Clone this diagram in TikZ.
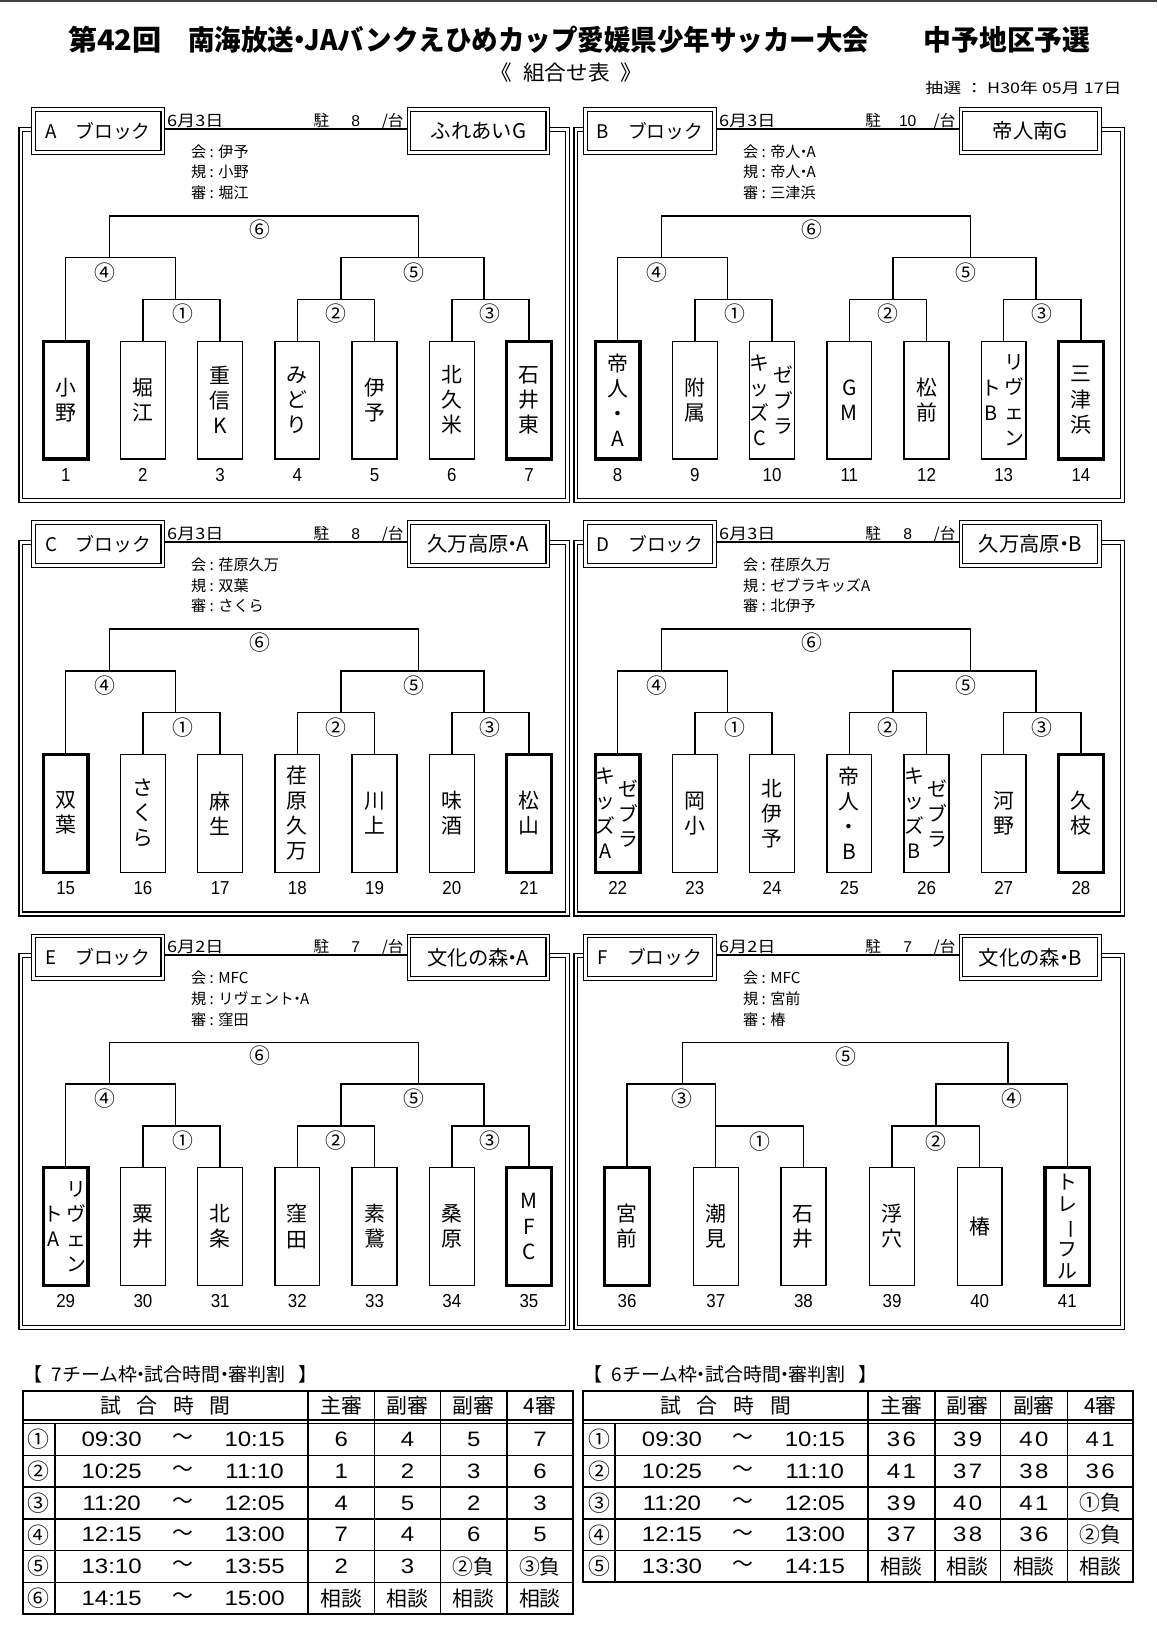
\documentclass[tikz,border=0pt]{standalone}
\usepackage{fontspec}
\usepackage{graphicx}
\setmainfont{Noto Sans CJK JP}
\newfontfamily\latn{Liberation Sans}
\newcommand\fsz[1]{\fontsize{#1}{#1}\selectfont}
\newcommand\vfsz[2]{\fontsize{#1}{#2}\selectfont}
\def\lsp#1#2{\def\lspk{\kern#1}\lspa#2\relax}
\def\lspa#1{#1\lspb}
\def\lspb#1{\ifx#1\relax\else\lspk#1\expandafter\lspb\fi}
\newcommand\tn[1]{{\latn\fsz{20}\scalebox{1.15}[1]{\lsp{2pt}{#1}}}}
\newcommand\vbar{\rotatebox[origin=c]{-90}{ー}}
\newcommand\ndot{\kern-0.3em・\kern-0.3em}
\tikzset{
  every node/.style={inner sep=0pt},
  fr/.style={draw, double, double distance=2.6pt, line width=1.1pt},
  hbox/.style={draw, double, double distance=2.4pt, line width=1.1pt, fill=white, minimum height=41pt, font=\fsz{18}},
  br/.style={line width=1.4pt},
  tbox/.style={draw, line width=1.3pt, fill=white, minimum width=43pt, minimum height=113pt},
  seed/.style={tbox, line width=3.2pt},
  tname/.style={font=\vfsz{20}{24}, align=center},
  tname2/.style={font=\vfsz{19}{24}, align=center},
  tnumb/.style={font=\latn\fsz{18}},
  circ/.style={font=\fsz{20}},
  small/.style={font=\fsz{14.5}},
  tl/.style={line width=1.4pt},
  cell/.style={font=\fsz{20}},
}
\newcommand\blockframe[7]{%
  \draw[fr] (#2+2,124) rectangle (#3-2,480);
  \fill[white] (150,119) rectangle (395,129);
  \draw[line width=1.5pt] (150,123.5) -- (395,123.5);
  \node[hbox, minimum width=124pt] (#1-hb) at (94,125.5) {#4\hspace{1em}ブロック};
  \node[hbox, minimum width=133pt, font=\fsz{19.5}] (#1-hv) at (458.5,125.5) {#7};
  \node[font=\fsz{15}, anchor=base west] (#1-date) at (160,121) {\resizebox{54pt}{\height}{#5}};
  \node[font=\fsz{15}, anchor=base] (#1-park) at (308,121) {駐};
  \node[font=\latn\fsz{15}, anchor=base] (#1-pn) at (341,121) {#6};
  \node[font=\fsz{15}, anchor=base east] (#1-pu) at (387,121) {/台};
}
\newcommand\officials[4]{%
  \node[small, anchor=west] (#1-o1) at (183,145) {会 : #2};
  \node[small, anchor=west] (#1-o2) at (183,165) {規 : #3};
  \node[small, anchor=west] (#1-o3) at (183,185) {審 : #4};
}
\newcommand\team[5]{%
  \node[#3] (#1) at (#2,383.5) {};
  \node[tname] (#1-txt) at (#1.center) {#5};
  \node[tnumb] (#1-num) at (#2,455) {\scalebox{0.9}[1]{#4}};
}
\newcommand\teamtwo[6]{%
  \node[#3] (#1) at (#2,383.5) {};
  \node[tname2] (#1-r) at ([xshift=10.5pt]#1.center) {#5};
  \node[tname2] (#1-l) at ([xshift=-12pt]#1.center) {#6};
  \node[tnumb] (#1-num) at (#2,455) {\scalebox{0.9}[1]{#4}};
}
\newcommand\bracketseven[8]{%
  \coordinate (#1-m1) at (174,287);
  \coordinate (#1-m2) at (322,287);
  \coordinate (#1-m3) at (470,287);
  \coordinate (#1-j1) at (168,287);
  \coordinate (#1-j2) at (327,287);
  \coordinate (#1-j3) at (464,287);
  \coordinate (#1-m4) at (115,247);
  \coordinate (#1-m5) at (395,247);
  \coordinate (#1-j4) at (105,247);
  \coordinate (#1-j5) at (401,247);
  \coordinate (#1-m6) at (253,207);
  \draw[br] (#3.north) |- (#1-m1) -| (#4.north);
  \draw[br] (#5.north) |- (#1-m2) -| (#6.north);
  \draw[br] (#7.north) |- (#1-m3) -| (#8.north);
  \draw[br] (#2.north) |- (#1-m4) -| (#1-j1);
  \draw[br] (#1-j2) |- (#1-m5) -| (#1-j3);
  \draw[br] (#1-j4) |- (#1-m6) -| (#1-j5);
  \node[circ] (#1-c1) at (175,301) {①};
  \node[circ] (#1-c2) at (322,301) {②};
  \node[circ] (#1-c3) at (470,301) {③};
  \node[circ] (#1-c4) at (101,261) {④};
  \node[circ] (#1-c5) at (397,261) {⑤};
  \node[circ] (#1-c6) at (249,220) {⑥};
}
\begin{document}
\begin{tikzpicture}[x=1pt,y=-1pt]
\useasboundingbox (0,0) rectangle (1109,1568);
\fill[white] (0,0) rectangle (1109,1568);
\fill[black!75] (0,0) rectangle (1109,2);

% ---------- title ----------
\node[anchor=west, font=\bfseries\fsz{27}] (ttl1) at (65,38) {\resizebox{90pt}{\height}{第42回}};
\node[anchor=west, font=\bfseries\fsz{27}] (ttl2) at (180,38) {\resizebox{653pt}{\height}{南海放送\ndot JAバンクえひめカップ愛媛県少年サッカー大会}};
\node[anchor=west, font=\bfseries\fsz{27}] (ttl3) at (885,38) {\resizebox{160pt}{\height}{中予地区予選}};
\node[font=\fsz{20}] (sub) at (543,70) {\resizebox{145pt}{\height}{《\hspace{0.5em}組合せ表\hspace{0.5em}》}};
\node[font=\fsz{14}] (lot) at (981,84) {\resizebox{188pt}{\height}{抽選 ： H30年 05月 17日}};

% ---------- Block A ----------
\begin{scope}[shift={(0,0)}]
\blockframe{A}{18}{546}{A}{6月3日}{8}{ふれあいG}
\officials{A}{伊予}{小野}{堀江}
\team{t1}{63}{seed}{1}{小\\野}
\team{t2}{137}{tbox}{2}{堀\\江}
\team{t3}{211}{tbox}{3}{重\\信\\K}
\team{t4}{285}{tbox}{4}{み\\ど\\り}
\team{t5}{359}{tbox}{5}{伊\\予}
\team{t6}{433}{tbox}{6}{北\\久\\米}
\team{t7}{507}{seed}{7}{石\\井\\東}
\bracketseven{A}{t1}{t2}{t3}{t4}{t5}{t6}{t7}
\end{scope}

% ---------- Block B ----------
\begin{scope}[shift={(529,0)}]
\blockframe{B}{21}{549}{B}{6月3日}{10}{帝人南G}
\officials{B}{帝人\ndot A}{帝人\ndot A}{三津浜}
\team{t8}{63}{seed}{8}{帝\\人\\・\\A}
\team{t9}{137}{tbox}{9}{附\\属}
\teamtwo{t10}{211}{tbox}{10}{ゼ\\ブ\\ラ}{キ\\ッ\\ズ\\C}
\team{t11}{285}{tbox}{11}{G\\M}
\team{t12}{359}{tbox}{12}{松\\前}
\teamtwo{t13}{433}{tbox}{13}{リ\\ヴ\\ェ\\ン}{ト\\B}
\team{t14}{507}{seed}{14}{三\\津\\浜}
\bracketseven{B}{t8}{t9}{t10}{t11}{t12}{t13}{t14}
\end{scope}

% ---------- Block C ----------
\begin{scope}[shift={(0,396)}]
\blockframe{C}{18}{546}{C}{6月3日}{8}{久万高原\ndot A}
\officials{C}{荏原久万}{双葉}{さくら}
\team{t15}{63}{seed}{15}{双\\葉}
\team{t16}{137}{tbox}{16}{さ\\く\\ら}
\team{t17}{211}{tbox}{17}{麻\\生}
\team{t18}{285}{tbox}{18}{荏\\原\\久\\万}
\team{t19}{359}{tbox}{19}{川\\上}
\team{t20}{433}{tbox}{20}{味\\酒}
\team{t21}{507}{seed}{21}{松\\山}
\bracketseven{C}{t15}{t16}{t17}{t18}{t19}{t20}{t21}
\end{scope}

% ---------- Block D ----------
\begin{scope}[shift={(529,396)}]
\blockframe{D}{21}{549}{D}{6月3日}{8}{久万高原\ndot B}
\officials{D}{荏原久万}{ゼブラキッズA}{北伊予}
\teamtwo{t22}{63}{seed}{22}{ゼ\\ブ\\ラ}{キ\\ッ\\ズ\\A}
\team{t23}{137}{tbox}{23}{岡\\小}
\team{t24}{211}{tbox}{24}{北\\伊\\予}
\team{t25}{285}{tbox}{25}{帝\\人\\・\\B}
\teamtwo{t26}{359}{tbox}{26}{ゼ\\ブ\\ラ}{キ\\ッ\\ズ\\B}
\team{t27}{433}{tbox}{27}{河\\野}
\team{t28}{507}{seed}{28}{久\\枝}
\bracketseven{D}{t22}{t23}{t24}{t25}{t26}{t27}{t28}
\end{scope}

% ---------- Block E ----------
\begin{scope}[shift={(0,792)}]
\blockframe{E}{18}{546}{E}{6月2日}{7}{文化の森\ndot A}
\officials{E}{MFC}{リヴェント\ndot A}{窪田}
\teamtwo{t29}{63}{seed}{29}{リ\\ヴ\\ェ\\ン}{ト\\A}
\team{t30}{137}{tbox}{30}{粟\\井}
\team{t31}{211}{tbox}{31}{北\\条}
\team{t32}{285}{tbox}{32}{窪\\田}
\team{t33}{359}{tbox}{33}{素\\鵞}
\team{t34}{433}{tbox}{34}{桑\\原}
\team{t35}{507}{seed}{35}{M\\F\\C}
\bracketseven{E}{t29}{t30}{t31}{t32}{t33}{t34}{t35}
\end{scope}

% ---------- Block F ----------
\begin{scope}[shift={(529,792)}]
\blockframe{F}{21}{549}{F}{6月2日}{7}{文化の森\ndot B}
\officials{F}{MFC}{宮前}{椿}
\team{t36}{72}{seed}{36}{宮\\前}
\team{t37}{157}{tbox}{37}{潮\\見}
\team{t38}{241}{tbox}{38}{石\\井}
\team{t39}{326}{tbox}{39}{浮\\穴}
\team{t40}{410}{tbox}{40}{椿}
\node[seed] (t41) at (494,383.5) {};
\node[font=\vfsz{19}{21.5}, align=center] (t41-txt) at (t41.center) {ト\\レ\\\vbar\\フ\\ル};
\node[tnumb] (t41-num) at (494,455) {\scalebox{0.9}[1]{41}};
\coordinate (F-m3) at (114,247);
\coordinate (F-m1) at (199,287);
\coordinate (F-j2) at (368,287);
\coordinate (F-m4) at (431,247);
\coordinate (F-m2) at (368,287);
\coordinate (F-j3) at (125,247);
\coordinate (F-j4) at (437,247);
\coordinate (F-m5) at (281,207);
\draw[br] (t36.north) |- (F-m3) -| (t37.north);
\draw[br] (t37.north) |- (F-m1) -| (t38.north);
\draw[br] (t39.north) |- (F-m2) -| (t40.north);
\draw[br] (F-j2) |- (F-m4) -| (t41.north);
\draw[br] (F-j3) |- (F-m5) -| (F-j4);
\node[circ] (F-c5) at (282,221) {⑤};
\node[circ] (F-c3) at (125,261) {③};
\node[circ] (F-c4) at (441,261) {④};
\node[circ] (F-c1) at (199,302) {①};
\node[circ] (F-c2) at (368,302) {②};
\end{scope}

% ---------- Left table ----------
\node[font=\fsz{18}, anchor=west] (LT-title) at (22,1317) {\resizebox{282pt}{\height}{【\hspace{0.5em}7チーム枠\ndot 試合時間\ndot 審判割\hspace{0.7em}】}};
\draw[line width=2pt] (22,1333) rectangle (549,1546.9);
\draw[tl] (22,1361) -- (549,1361);
\draw[tl] (22,1364.5) -- (549,1364.5);
\foreach \yy in {1394.9,1425.3,1455.7,1486.1,1516.5} \draw[tl] (22,\yy) -- (549,\yy);
\draw[tl] (52.5,1364.5) -- (52.5,1546.9);
\foreach \xx in {295,359,422,486} \draw[tl] (\xx,1333) -- (\xx,1546.9);
\node[cell] (LT-h0) at (158.5,1347.5) {\lsp{15pt}{試合時間}};
\node[cell] (LT-h1) at (327,1347.5) {主審};
\node[cell] (LT-h2) at (390.5,1347.5) {副審};
\node[cell] (LT-h3) at (454,1347.5) {副審};
\node[cell] (LT-h4) at (517.5,1347.5) {4審};
\foreach \i/\c/\a/\b/\p/\q/\r/\s in {1/①/09:30/10:15/\tn{6}/\tn{4}/\tn{5}/\tn{7},
  2/②/10:25/11:10/\tn{1}/\tn{2}/\tn{3}/\tn{6},
  3/③/11:20/12:05/\tn{4}/\tn{5}/\tn{2}/\tn{3},
  4/④/12:15/13:00/\tn{7}/\tn{4}/\tn{6}/\tn{5},
  5/⑤/13:10/13:55/\tn{2}/\tn{3}/②負/③負,
  6/⑥/14:15/15:00/相談/相談/相談/相談}{
  \pgfmathsetmacro\yy{1379.7+30.4*(\i-1)}
  \node[cell, font=\fsz{21}] (LT-r\i-n) at (37.3,\yy) {\c};
  \node[cell] (LT-r\i-a) at (107,\yy) {\tn{\a}};
  \node[cell] (LT-r\i-w) at (175,\yy) {～};
  \node[cell] (LT-r\i-b) at (244,\yy) {\tn{\b}};
  \node[cell] (LT-r\i-p) at (327,\yy) {\p};
  \node[cell] (LT-r\i-q) at (390.5,\yy) {\q};
  \node[cell] (LT-r\i-r) at (454,\yy) {\r};
  \node[cell] (LT-r\i-s) at (517.5,\yy) {\s};
}

% ---------- Right table ----------
\begin{scope}[shift={(537,0)}]
\node[font=\fsz{18}, anchor=west] (RT-title) at (22,1317) {\resizebox{282pt}{\height}{【\hspace{0.5em}6チーム枠\ndot 試合時間\ndot 審判割\hspace{0.7em}】}};
\draw[line width=2pt] (22,1333) rectangle (549,1516.5);
\draw[tl] (22,1361) -- (549,1361);
\draw[tl] (22,1364.5) -- (549,1364.5);
\foreach \yy in {1394.9,1425.3,1455.7,1486.1} \draw[tl] (22,\yy) -- (549,\yy);
\draw[tl] (52.5,1364.5) -- (52.5,1516.5);
\foreach \xx in {295,359,422,486} \draw[tl] (\xx,1333) -- (\xx,1516.5);
\node[cell] (RT-h0) at (158.5,1347.5) {\lsp{15pt}{試合時間}};
\node[cell] (RT-h1) at (327,1347.5) {主審};
\node[cell] (RT-h2) at (390.5,1347.5) {副審};
\node[cell] (RT-h3) at (454,1347.5) {副審};
\node[cell] (RT-h4) at (517.5,1347.5) {4審};
\foreach \i/\c/\a/\b/\p/\q/\r/\s in {1/①/09:30/10:15/\tn{36}/\tn{39}/\tn{40}/\tn{41},
  2/②/10:25/11:10/\tn{41}/\tn{37}/\tn{38}/\tn{36},
  3/③/11:20/12:05/\tn{39}/\tn{40}/\tn{41}/①負,
  4/④/12:15/13:00/\tn{37}/\tn{38}/\tn{36}/②負,
  5/⑤/13:30/14:15/相談/相談/相談/相談}{
  \pgfmathsetmacro\yy{1379.7+30.4*(\i-1)}
  \node[cell, font=\fsz{21}] (RT-r\i-n) at (37.3,\yy) {\c};
  \node[cell] (RT-r\i-a) at (107,\yy) {\tn{\a}};
  \node[cell] (RT-r\i-w) at (175,\yy) {～};
  \node[cell] (RT-r\i-b) at (244,\yy) {\tn{\b}};
  \node[cell] (RT-r\i-p) at (327,\yy) {\p};
  \node[cell] (RT-r\i-q) at (390.5,\yy) {\q};
  \node[cell] (RT-r\i-r) at (454,\yy) {\r};
  \node[cell] (RT-r\i-s) at (517.5,\yy) {\s};
}
\end{scope}
\end{tikzpicture}
\end{document}
